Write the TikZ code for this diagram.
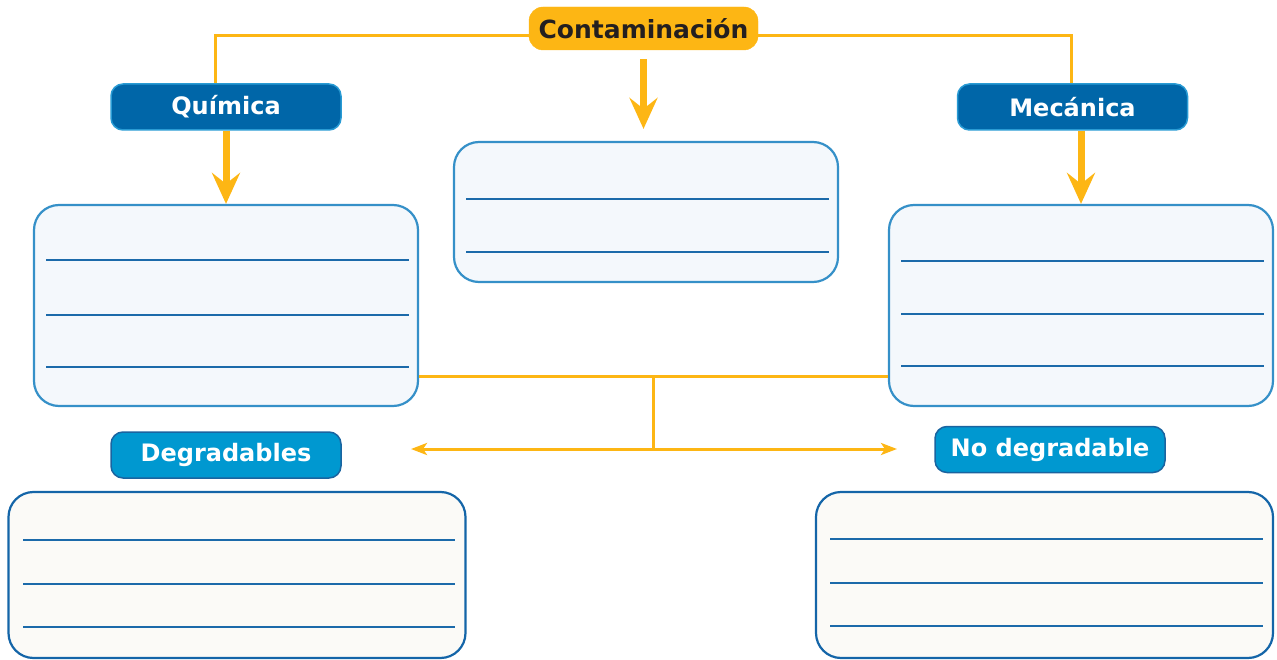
\documentclass[tikz,border=0pt]{standalone}
\usepackage{fontspec}
\setmainfont{DejaVu Sans}
\usetikzlibrary{arrows.meta,positioning}

\definecolor{conorange}{RGB}{253,182,20}
\definecolor{titletext}{RGB}{35,31,32}
\definecolor{topicfill}{RGB}{0,102,168}
\definecolor{topicdraw}{RGB}{41,155,212}
\definecolor{kindfill}{RGB}{0,152,208}
\definecolor{kinddraw}{RGB}{26,100,160}
\definecolor{upfill}{RGB}{244,248,252}
\definecolor{updraw}{RGB}{53,144,200}
\definecolor{lowfill}{RGB}{251,250,247}
\definecolor{lowdraw}{RGB}{20,101,168}
\definecolor{lineblue}{RGB}{27,106,170}

\tikzset{
  maintitle/.style={rounded corners=14pt, fill=conorange, draw=conorange, text=titletext,
    font=\bfseries\fontsize{25}{30}\selectfont, minimum width=229pt, minimum height=43pt, inner sep=0pt},
  topic/.style={rounded corners=12pt, fill=topicfill, draw=topicdraw, line width=1.5pt, text=white,
    font=\bfseries\fontsize{24}{28}\selectfont, minimum width=230pt, minimum height=46pt, inner sep=0pt},
  kind/.style={topic, fill=kindfill, draw=kinddraw},
  answer/.style={rounded corners=25pt, draw=updraw, fill=upfill, line width=2.2pt,
    minimum width=384pt, minimum height=201pt, inner sep=0pt},
  lower/.style={draw=lowdraw, fill=lowfill, minimum width=457pt, minimum height=166pt},
  bigarrow/.style={draw=conorange, line width=7pt, -{Stealth[length=31pt,width=28pt,inset=11pt]}},
  thinline/.style={draw=conorange, line width=3pt},
  writeline/.style={draw=lineblue, line width=2.6pt}
}

\begin{document}
\begin{tikzpicture}[x=1pt,y=-1pt]
    \useasboundingbox (0,0) rectangle (1277,660);

    % titles
    \node[maintitle] (cont) at (643.5,28.5) {Contaminación};
    \node[topic] (quim) at (226,107) {Química};
    \node[topic] (meca) at (1072.5,107) {Mecánica};
    \node[kind] (degr) at (226,455) {Degradables};
    \node[kind] (nodeg) at (1050,449.5) {No degradable};

    % boxes to fill in
    \node[answer] (quimbox) at (226,305.5) {};
    \node[answer, minimum height=140pt] (centbox) at (646,212) {};
    \node[answer] (mecabox) at (1081,305.5) {};
    \node[answer, lower] (degrbox) at (237,575) {};
    \node[answer, lower] (nodegbox) at (1044.5,575) {};

    \foreach \y in {260,315,367}
    {
        \draw[writeline] (46,\y) -- (409,\y);
    }
    \foreach \y in {199,252}
    {
        \draw[writeline] (466,\y) -- (829,\y);
    }
    \foreach \y in {261,314,366}
    {
        \draw[writeline] (901,\y) -- (1264,\y);
    }
    \foreach \y in {540,584,627}
    {
        \draw[writeline] (23,\y) -- (455,\y);
    }
    \foreach \y in {539,583,626}
    {
        \draw[writeline] (830,\y) -- (1263,\y);
    }

    % connectors
    \draw[thinline] ([yshift=-7.5pt]cont.west) -| ([xshift=-11pt]quim.north);
    \draw[thinline] ([yshift=-7.5pt]cont.east) -| ([xshift=-1.5pt]meca.north);
    \draw[bigarrow, shorten >=12pt] ([yshift=-9pt]cont.south) -- (cont.south |- centbox.north);
    \draw[bigarrow] (quim.south) -- (quimbox.north);
    \draw[bigarrow] (mecabox.north |- meca.south) -- (mecabox.north);

    \coordinate (junc) at (653,376);
    \coordinate (split) at (653,449);
    \coordinate (toleft) at (411,449);
    \coordinate (toright) at (897,449);
    \draw[thinline] (quimbox.east |- junc) -- (mecabox.west |- junc);
    \draw[thinline] (junc) -- (split);
    \draw[thinline, {Stealth[length=16pt,width=12pt,inset=4pt]}-{Stealth[length=16pt,width=12pt,inset=4pt]}]
        (toleft) -- (toright);

\end{tikzpicture}
\end{document}
